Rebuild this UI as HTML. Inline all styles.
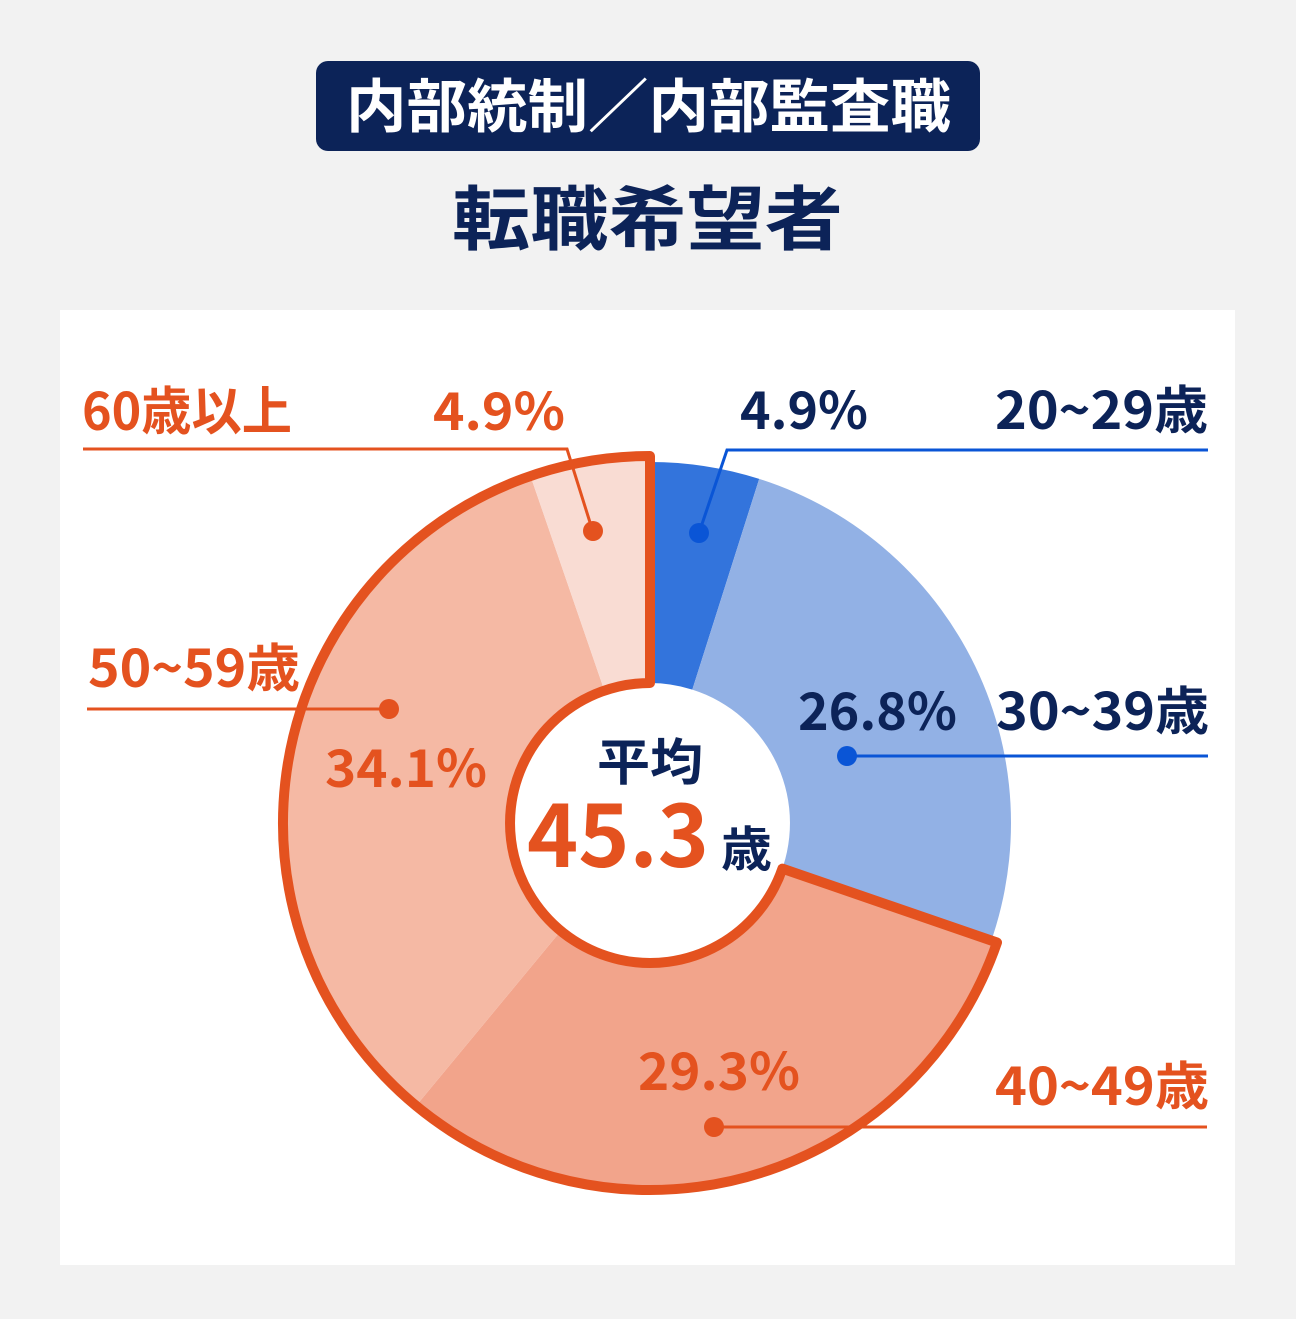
<!DOCTYPE html>
<html>
<head>
<meta charset="utf-8">
<style>
  html, body { margin: 0; padding: 0; background: #f2f2f2; }
  body { width: 1296px; height: 1319px; overflow: hidden; }
  svg { display: block; }
  text { font-family: "Liberation Sans", "Noto Sans CJK JP", sans-serif; font-weight: 700; }
  .cjk { font-family: "Noto Sans CJK JP", "Liberation Sans", sans-serif; font-weight: 700; }
</style>
</head>
<body>
<svg width="1296" height="1319" viewBox="0 0 1296 1319" xmlns="http://www.w3.org/2000/svg">
  <rect x="0" y="0" width="1296" height="1319" fill="#f2f2f2"/>
  <!-- Title -->
  <rect x="316" y="61" width="664" height="90" rx="12" ry="12" fill="#0c2358"/>
  <text class="cjk" x="346" y="127" font-size="58" fill="#ffffff" textLength="605" lengthAdjust="spacingAndGlyphs">内部統制／内部監査職</text>
  <text class="cjk" x="452" y="244" font-size="70" fill="#0c2358" textLength="391" lengthAdjust="spacingAndGlyphs">転職希望者</text>

  <!-- Panel -->
  <rect x="60" y="310" width="1175" height="955" fill="#ffffff"/>

  <!-- Blue slices -->
  <path d="M650,462 A361,361 0 0 1 759.2,478.9 L692.3,689.6 A140,140 0 0 0 650,683 Z" fill="#3374dc"/>
  <path d="M759.2,478.9 A361,361 0 0 1 979.8,969.8 L777.9,879.9 A140,140 0 0 0 692.3,689.6 Z" fill="#92b1e5"/>

  <!-- Orange slices -->
  <path d="M997.0,942.5 A367,367 0 0 1 416.1,1105.8 L560.8,930.9 A140,140 0 0 0 782.4,868.6 Z" fill="#f2a48b"/>
  <path d="M416.1,1105.8 A367,367 0 0 1 530.5,476 L604.4,690.6 A140,140 0 0 0 560.8,930.9 Z" fill="#f5b9a4"/>
  <path d="M530.5,476 A367,367 0 0 1 650,456 L650,683 A140,140 0 0 0 604.4,690.6 Z" fill="#f9dcd3"/>
  <path d="M997.0,942.5 A367,367 0 1 1 650,456 L650,683 A140,140 0 1 0 782.4,868.6 Z" fill="none" stroke="#e4521f" stroke-width="10" stroke-linejoin="round"/>

  <!-- Leader lines -->
  <polyline points="83,449 567,449 593,532" fill="none" stroke="#e4521f" stroke-width="3"/>
  <circle cx="593" cy="531" r="10" fill="#e4521f"/>
  <polyline points="1208,450 727,450 699,533" fill="none" stroke="#0a55d6" stroke-width="3"/>
  <circle cx="699" cy="533" r="10" fill="#0a55d6"/>
  <line x1="87" y1="709" x2="389" y2="709" stroke="#e4521f" stroke-width="3"/>
  <circle cx="389" cy="709" r="10" fill="#e4521f"/>
  <line x1="847" y1="756" x2="1208" y2="756" stroke="#0a55d6" stroke-width="3"/>
  <circle cx="847" cy="756" r="10" fill="#0a55d6"/>
  <line x1="714" y1="1127" x2="1207" y2="1127" stroke="#e4521f" stroke-width="3"/>
  <circle cx="714" cy="1127" r="10" fill="#e4521f"/>

  <!-- Labels -->
  <g font-size="52">
    <text class="cjk" x="82" y="430" fill="#e4521f" textLength="210" lengthAdjust="spacingAndGlyphs">60歳以上</text>
    <text class="cjk" x="433" y="430" fill="#e4521f" textLength="132" lengthAdjust="spacingAndGlyphs">4.9%</text>
    <text class="cjk" x="740" y="429" fill="#0c2358" textLength="128" lengthAdjust="spacingAndGlyphs">4.9%</text>
    <text class="cjk" x="995" y="429" fill="#0c2358" textLength="213" lengthAdjust="spacingAndGlyphs">20~29歳</text>
    <text class="cjk" x="88" y="687" fill="#e4521f" textLength="212" lengthAdjust="spacingAndGlyphs">50~59歳</text>
    <text class="cjk" x="325" y="787" fill="#e4521f" textLength="162" lengthAdjust="spacingAndGlyphs">34.1%</text>
    <text class="cjk" x="798" y="730" fill="#0c2358" textLength="159" lengthAdjust="spacingAndGlyphs">26.8%</text>
    <text class="cjk" x="996" y="730" fill="#0c2358" textLength="213" lengthAdjust="spacingAndGlyphs">30~39歳</text>
    <text class="cjk" x="638" y="1090" fill="#e4521f" textLength="162" lengthAdjust="spacingAndGlyphs">29.3%</text>
    <text class="cjk" x="995" y="1105" fill="#e4521f" textLength="214" lengthAdjust="spacingAndGlyphs">40~49歳</text>
  </g>

  <!-- Center -->
  <text class="cjk" x="597" y="780" font-size="50" fill="#0c2358" textLength="106" lengthAdjust="spacingAndGlyphs">平均</text>
  <text class="cjk" x="527" y="867" font-size="88" fill="#e4521f" textLength="182" lengthAdjust="spacingAndGlyphs">45.3</text>
  <text class="cjk" x="721" y="866" font-size="48" fill="#0c2358" textLength="51" lengthAdjust="spacingAndGlyphs">歳</text>
</svg>
</body>
</html>
